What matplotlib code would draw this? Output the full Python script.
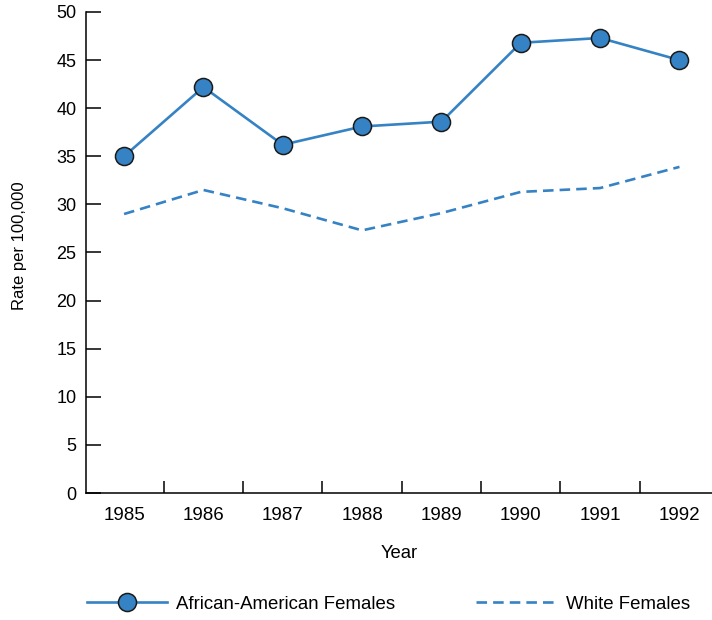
import matplotlib
matplotlib.use("Agg")
import matplotlib.pyplot as plt
from matplotlib.ticker import FixedLocator, NullFormatter

plt.rcParams["font.family"] = ["Liberation Sans", "DejaVu Sans"]

years = ["1985", "1986", "1987", "1988", "1989", "1990", "1991", "1992"]
african_american = [35.0, 42.2, 36.2, 38.1, 38.6, 46.8, 47.3, 45.0]
white = [29.0, 31.5, 29.6, 27.3, 29.1, 31.3, 31.7, 33.9]

blue = "#3582c4"
W, H = 712, 620

fig = plt.figure(figsize=(W / 100, H / 100), dpi=100)
ax = fig.add_axes([86 / W, (H - 493) / H, (712 - 86) / W, (493 - 12) / H])

x = list(range(len(years)))
ax.plot(x, african_american, color=blue, lw=1.9, marker="o", ms=13,
        mfc=blue, mec="#1a1a1a", mew=1.1, label="African-American Females",
        zorder=3)
ax.plot(x, white, color=blue, lw=1.9, dashes=(4, 2.3),
        label="White Females", zorder=2)

ax.set_xlim(-0.48, 7.41)
ax.set_ylim(0, 50)
ax.set_yticks(range(0, 51, 5))

# category labels on minor ticks, tick marks between categories
ax.xaxis.set_major_locator(FixedLocator([i + 0.5 for i in range(len(years) - 1)]))
ax.xaxis.set_major_formatter(NullFormatter())
ax.xaxis.set_minor_locator(FixedLocator(x))
ax.set_xticklabels(years, minor=True)
ax.tick_params(axis="x", which="major", direction="in", length=8.6, width=1.1)
ax.tick_params(axis="x", which="minor", length=0, pad=10, labelsize=13.5)
ax.tick_params(axis="y", direction="in", length=10.8, width=1.1, pad=7,
               labelsize=13)

for s in ["top", "right"]:
    ax.spines[s].set_visible(False)
for s in ["left", "bottom"]:
    ax.spines[s].set_linewidth(1.1)

ax.set_xlabel("Year", fontsize=13.3)
ax.set_ylabel("Rate per 100,000", fontsize=12)
ax.xaxis.set_label_coords((399 - 86) / 626, -(553 - 493) / 481)
ax.yaxis.set_label_coords(-(86 - 20) / 626, (493 - 246) / 481)
ax.xaxis.label.set_va("center")
ax.yaxis.label.set_va("center")

fig.legend(loc="center left", bbox_to_anchor=(87 / W, 1 - 604 / H), ncol=2,
           frameon=False, fontsize=13.4, handlelength=4.3, handletextpad=0.5,
           columnspacing=4.35, borderpad=0, borderaxespad=0)

fig.savefig("out.png", dpi=100)
